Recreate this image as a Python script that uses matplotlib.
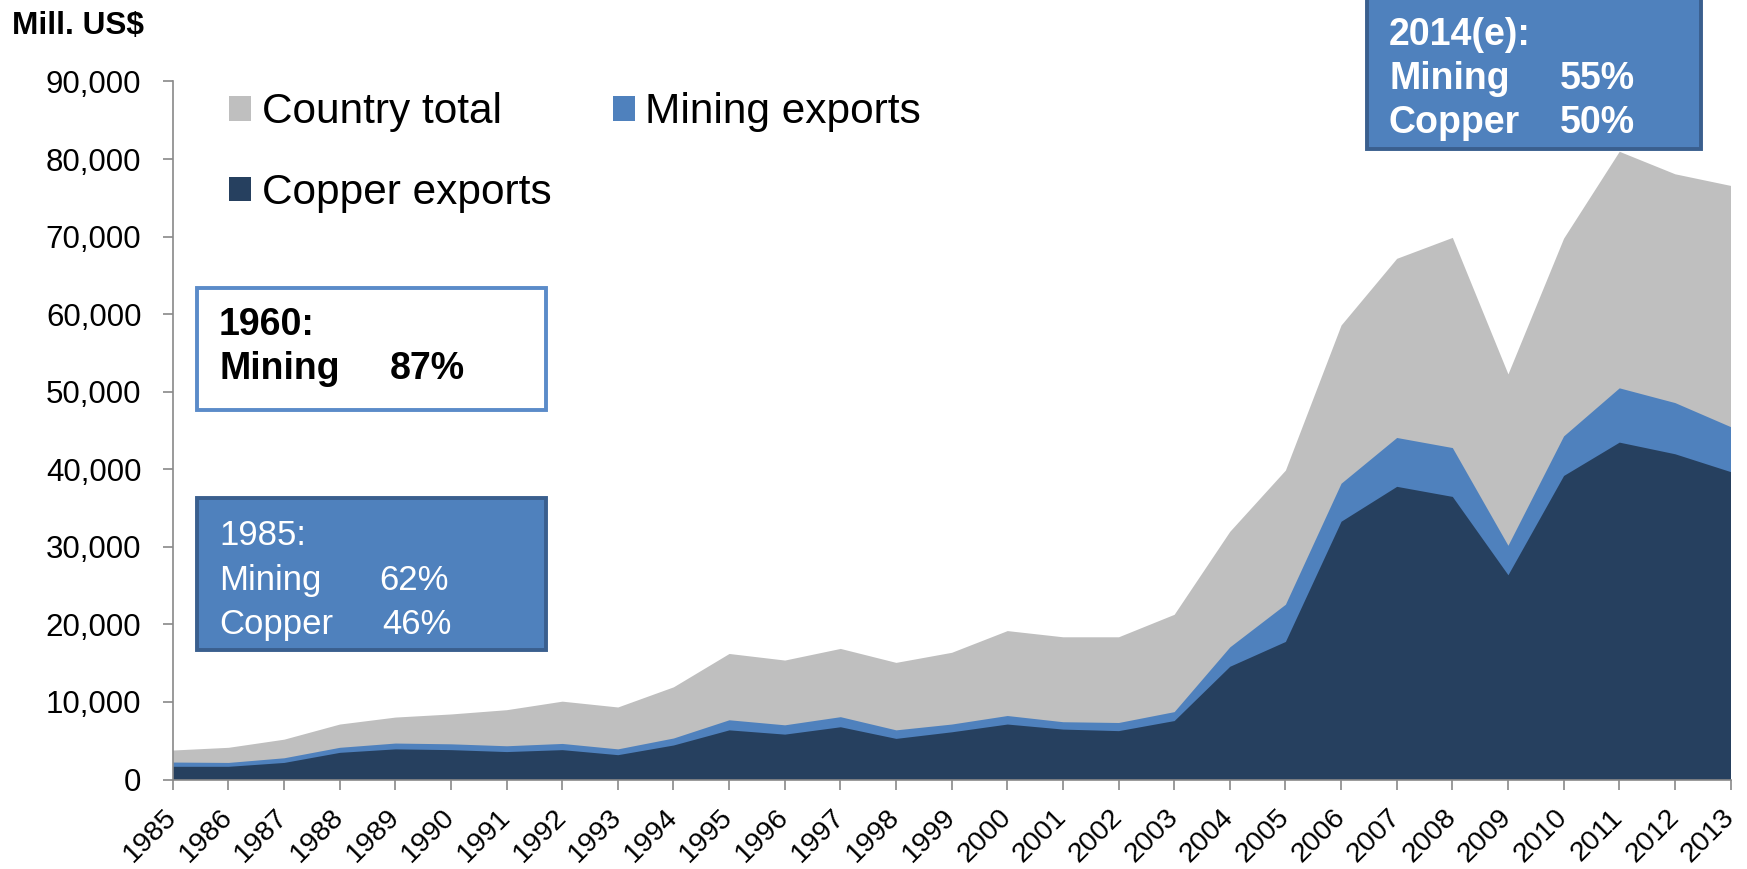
import matplotlib
matplotlib.use("Agg")
import matplotlib.pyplot as plt
from matplotlib.patches import Rectangle

plt.rcParams["font.family"] = ["Liberation Sans", "DejaVu Sans"]

# Export values, million US$
years = list(range(1985, 2014))
country_total = [3800, 4150, 5200, 7150, 8050, 8450, 9000, 10100, 9350, 11950,
                 16250, 15400, 16900, 15100, 16400, 19200, 18400, 18400, 21300, 32000,
                 39900, 58600, 67200, 69900, 52300, 69800, 81000, 78100, 76600]
mining_exports = [2250, 2200, 2800, 4150, 4700, 4600, 4350, 4650, 3950, 5350,
                  7700, 7050, 8100, 6400, 7150, 8250, 7450, 7350, 8750, 17100,
                  22600, 38200, 44100, 42800, 30200, 44300, 50500, 48600, 45500]
copper_exports = [1700, 1700, 2200, 3500, 3950, 3850, 3600, 3850, 3200, 4450,
                  6400, 5850, 6800, 5300, 6150, 7150, 6500, 6300, 7600, 14600,
                  17800, 33300, 37800, 36500, 26400, 39200, 43500, 42000, 39700]
yticks = list(range(0, 90001, 10000))

GRAY = "#BFBFBF"
BLUE = "#4F81BD"
NAVY = "#26405F"
EDGE = "#3A5F8E"

W, H = 1747, 869
fig = plt.figure(figsize=(W / 100, H / 100), dpi=100)
ax = fig.add_axes([172.7 / W, 1 - 779.5 / H, (1730.5 - 172.7) / W, (779.5 - 81.5) / H])


def px(x, y):
    # pixel position (from top-left) to figure fraction
    return x / W, 1 - y / H


ax.fill_between(years, 0, country_total, color=GRAY, lw=0, label="Country total")
ax.fill_between(years, 0, mining_exports, color=BLUE, lw=0, label="Mining exports")
ax.fill_between(years, 0, copper_exports, color=NAVY, lw=0, label="Copper exports")

ax.set_xlim(1985, 2013)
ax.set_ylim(0, 90000)
ax.set_yticks(yticks)
ax.set_yticklabels([f"{v:,}" for v in yticks], fontsize=22.5)
ax.set_xticks(years)
ax.set_xticklabels([str(y) for y in years], fontsize=20.5, rotation=45,
                   ha="right", va="center", rotation_mode="anchor")
ax.tick_params(axis="y", length=7.5, width=1.2, color="#898989", pad=15)
ax.tick_params(axis="x", length=7.2, width=1.2, color="#898989", pad=17.4)
for s in ["top", "right"]:
    ax.spines[s].set_visible(False)
for s in ["left", "bottom"]:
    ax.spines[s].set_color("#898989")
    ax.spines[s].set_linewidth(1.2)

h, l = ax.get_legend_handles_labels()
order = [0, 2, 1]
ax.legend([h[i] for i in order], [l[i] for i in order], ncol=2, fontsize=30.5,
          frameon=False, loc="upper left", bbox_to_anchor=px(229, 92.5),
          bbox_transform=fig.transFigure, borderpad=0, borderaxespad=0,
          handlelength=0.52, handleheight=0.52, handletextpad=0.25,
          columnspacing=1.45, labelspacing=0.96)

fig.text(*px(12, 26), "Mill. US$", fontsize=22.8, fontweight="bold", va="center")

# annotation boxes
boxes = [
    (197, 288, 546, 410, "white", "#5B8BC9"),
    (197, 498, 546, 650, BLUE, EDGE),
    (1367, -10, 1701, 149, BLUE, EDGE),
]
for x0, y0, x1, y1, fc, ec in boxes:
    fx0, fy1 = px(x0, y1)
    fx1, fy0 = px(x1, y0)
    fig.add_artist(Rectangle((fx0, fy1), fx1 - fx0, fy0 - fy1, transform=fig.transFigure,
                             facecolor=fc, edgecolor=ec, lw=2.8, zorder=5))

box_lines = [
    (219, 335, "1960:", None, "black", "bold", 27),
    (219, 379, "Mining", (390, "87%"), "black", "bold", 27),
    (219, 545, "1985:", None, "white", "normal", 25),
    (219, 590, "Mining", (379, "62%"), "white", "normal", 25),
    (219, 634, "Copper", (382, "46%"), "white", "normal", 25),
    (1389, 45, "2014(e):", None, "white", "bold", 27),
    (1389, 89, "Mining", (1560, "55%"), "white", "bold", 27),
    (1389, 133, "Copper", (1560, "50%"), "white", "bold", 27),
]
for x, y, label, pct, color, weight, size in box_lines:
    fig.text(*px(x, y), label, color=color, fontweight=weight, fontsize=size,
             va="baseline", zorder=6)
    if pct:
        fig.text(*px(pct[0], y), pct[1], color=color, fontweight=weight, fontsize=size,
                 va="baseline", zorder=6)

fig.savefig("out.png", dpi=100)
